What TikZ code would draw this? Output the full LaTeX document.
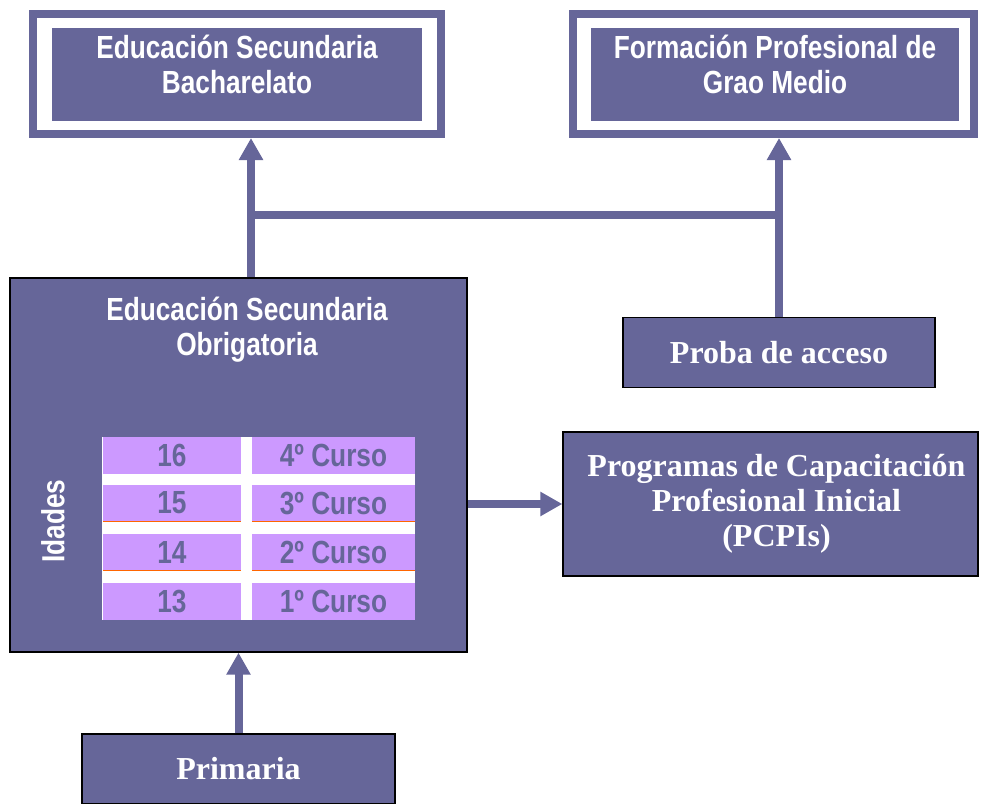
\documentclass[tikz,border=0pt]{standalone}
\usepackage{fontspec}
\setmainfont{Liberation Serif}
\newfontfamily\narrowsans[FakeStretch=0.82]{Liberation Sans}
\usetikzlibrary{arrows.meta}
\definecolor{eduviolet}{RGB}{102,102,153}
\definecolor{edulilac}{RGB}{204,153,255}
\definecolor{eduorange}{RGB}{255,102,0}

\begin{document}
\begin{tikzpicture}[x=1pt, y=-1pt,
    frame/.style={draw=eduviolet, line width=8pt, fill=white},
    box/.style={fill=eduviolet, inner sep=0pt},
    solidbox/.style={box, draw=black, line width=1.3pt, text=white, align=center,
      font=\bfseries\fontsize{32}{35}\selectfont},
    boxtext/.style={text=white, align=center, inner sep=0pt,
      font=\narrowsans\bfseries\fontsize{32}{35}\selectfont},
    cell/.style={fill=edulilac, text=eduviolet, minimum height=37pt, inner sep=0pt,
      font=\narrowsans\bfseries\fontsize{32}{35}\selectfont},
    link/.style={draw=eduviolet, line width=8pt},
    linkarrow/.style={link, -{Triangle[width=23pt,length=22pt]}}]
  \useasboundingbox (0,0) rectangle (981,803);

  % Upper stages (double framed)
  \node[frame, minimum width=408pt, minimum height=120pt] (bachframe) at (237,74) {};
  \node[box, minimum width=370pt, minimum height=93pt] (bach) at (237,74.5) {};
  \node[boxtext] (bachlabel) at (237,64) {Educación Secundaria\\Bacharelato};

  \node[frame, minimum width=401pt, minimum height=120pt] (fpframe) at (773.5,74) {};
  \node[box, minimum width=368pt, minimum height=93pt] (fp) at (775,74.5) {};
  \node[boxtext] (fplabel) at (775,64) {Formación Profesional de\\Grao Medio};

  % ESO block
  \node[solidbox, minimum width=457pt, minimum height=374pt] (eso) at (238.5,465) {};
  \node[boxtext] (esolabel) at (247,330) {Educación Secundaria\\Obrigatoria};
  \node[boxtext, rotate=90] (idades) at (53,521) {Idades};

  % Ages / courses table
  \fill[white] (102,437) rectangle (415,620);
  \foreach \age/\course/\y in {16/4/455, 15/3/503, 14/2/552, 13/1/601} {
    \node[cell, minimum width=138pt] (age\age) at (172,\y) {\age};
    \node[cell, minimum width=163pt] (course\course) at (333.5,\y) {\course º Curso};
  }
  \draw[eduorange, line width=1.5pt] (age15.south west) -- (age15.south east)
    (course3.south west) -- (course3.south east)
    (age14.south west) -- (age14.south east)
    (course2.south west) -- (course2.south east);

  % Other boxes
  \node[solidbox, minimum width=312pt, minimum height=70pt] (proba) at (779,352.5) {Proba de acceso};
  \node[solidbox, minimum width=415pt, minimum height=144pt] (pcpi) at (770.5,504)
    {\hspace*{12pt}Programas de Capacitación\\\hspace*{12pt}Profesional Inicial\\\hspace*{12pt}(PCPIs)};
  \node[solidbox, minimum width=313pt, minimum height=70pt] (primaria) at (238.5,769) {Primaria};

  % Connectors
  \coordinate (jleft) at (251,215);
  \coordinate (jright) at (proba.north |- jleft);
  \draw[linkarrow] (jleft |- eso.north) -- (jleft |- bachframe.south);
  \draw[linkarrow] (proba.north) -- (proba.north |- fpframe.south);
  \draw[link] (jleft) -- (jright);
  \draw[linkarrow] (pcpi.west -| eso.east) -- (pcpi.west);
  \draw[linkarrow] (primaria.north) -- (primaria.north |- eso.south);
\end{tikzpicture}
\end{document}
